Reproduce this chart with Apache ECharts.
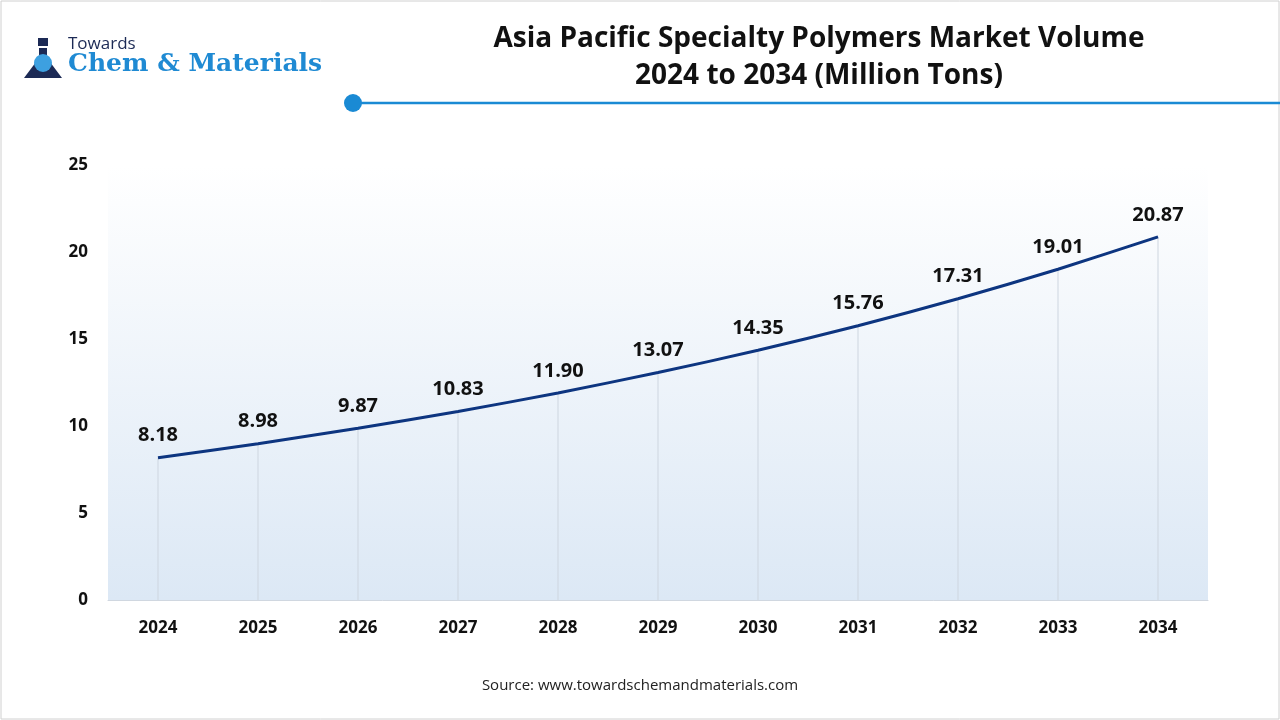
<!DOCTYPE html>
<html><head><meta charset="utf-8">
<script src="https://cdn.jsdelivr.net/npm/echarts@6/dist/echarts.min.js"></script>
<style>html,body{margin:0;padding:0;background:#fff}#c{width:1280px;height:720px}</style>
</head><body><div id="c"></div>
<script>
const years = ['2024','2025','2026','2027','2028','2029','2030','2031','2032','2033','2034'];
const volume = [8.18,8.98,9.87,10.83,11.90,13.07,14.35,15.76,17.31,19.01,20.87];
const yTicks = [0,5,10,15,20,25];
const ff = '"Open Sans", "Noto Sans", sans-serif';
const chart = echarts.init(document.getElementById('c'));
chart.setOption({
  backgroundColor:'#fff',
  animation:false,
  title:{text:'Asia Pacific Specialty Polymers Market Volume\n2024 to 2034 (Million Tons)',left:814,top:16,textAlign:'center',
    textStyle:{fontFamily:ff,fontSize:28,fontWeight:'bold',color:'#111',lineHeight:37}},
  graphic:[
    {type:'rect',shape:{x:1,y:1,width:1278,height:718},style:{fill:'none',stroke:'#d0d0d0',lineWidth:1}},
    {type:'line',shape:{x1:352,y1:103,x2:1280,y2:103},style:{stroke:'#1a8ad4',lineWidth:2.5}},
    {type:'circle',shape:{cx:353,cy:103,r:9},style:{fill:'#1a8ad4'}},
    {type:'text',x:68,y:36,style:{text:'Towards',fontFamily:ff,fontSize:17,fill:'#1c2a55'}},
    {type:'text',x:68,y:52,style:{text:'Chem & Materials',fontFamily:'"DejaVu Serif", serif',fontSize:25,fontWeight:'bold',fill:'#1f8ad3'}},
    {type:'polygon',shape:{points:[[39,48],[47,48],[47,58],[62,78],[24,78],[39,58]]},style:{fill:'#1c2a55'}},
    {type:'rect',shape:{x:38,y:38,width:10,height:8},style:{fill:'#1c2a55'}},
    {type:'circle',shape:{cx:43,cy:63,r:9},style:{fill:'#3da0e0'}},
    {type:'text',x:640,y:678,style:{text:'Source: www.towardschemandmaterials.com',fontFamily:ff,fontSize:15,fill:'#222',align:'center'}}
  ],
  grid:{left:108,right:72,top:165,bottom:120,show:true,borderWidth:0,
    backgroundColor:new echarts.graphic.LinearGradient(0,0,0,1,[{offset:0,color:'#ffffff'},{offset:1,color:'#dce8f5'}])},
  xAxis:{type:'category',data:years,boundaryGap:true,
    axisLine:{lineStyle:{color:'#d0d7e0'}},axisTick:{show:false},
    axisLabel:{margin:20,fontFamily:ff,fontSize:17,fontWeight:'bold',color:'#111'}},
  yAxis:{type:'value',min:0,max:25,interval:5,
    axisLine:{show:false},axisTick:{show:false},splitLine:{show:false},
    axisLabel:{margin:20,fontFamily:ff,fontSize:17,fontWeight:'bold',color:'#111',
      formatter:v=>yTicks.includes(v)?String(v):''}},
  series:[
    {type:'bar',data:volume,barWidth:1,itemStyle:{color:'#cdd5df'},silent:true},
    {type:'line',data:volume,showSymbol:true,symbol:'circle',symbolSize:0.1,smooth:0.2,lineStyle:{color:'#0d3580',width:3},
      label:{show:true,position:'top',distance:12,formatter:p=>p.value.toFixed(2),fontFamily:ff,fontSize:20,fontWeight:'bold',color:'#111'}}
  ]
});
</script></body></html>
